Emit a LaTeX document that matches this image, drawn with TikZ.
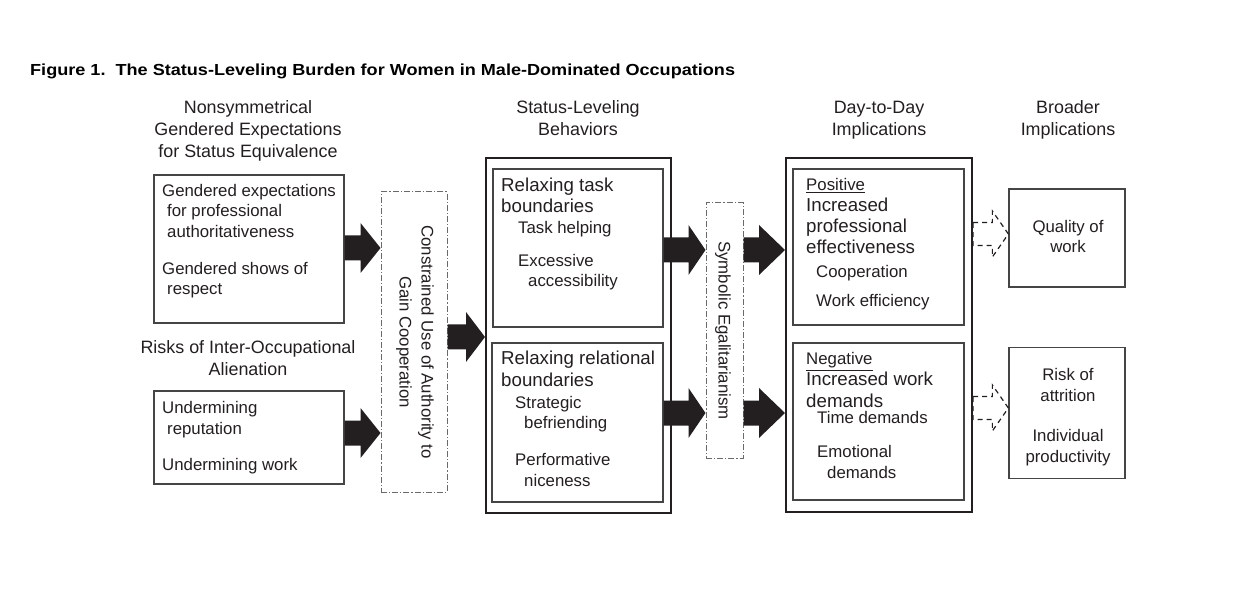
\documentclass[tikz,border=0pt]{standalone}
\usepackage{fontspec}
\setmainfont{Liberation Sans}
\newfontfamily\titlefont[FakeStretch=1.13]{Liberation Sans}
\usetikzlibrary{calc}
\definecolor{ink}{HTML}{231F20}
\definecolor{edge}{HTML}{454545}
\definecolor{dashc}{HTML}{6A6A6A}
\newcommand{\blockarr}[4]{%
  \fill[ink] ($(#1.east|-#3)+(0,-12.5)$) -- ($(#2.west|-#3)+(-#4,-12.5)$)
    -- ($(#2.west|-#3)+(-#4,-25)$) -- (#2.west|-#3) -- ($(#2.west|-#3)+(-#4,25)$)
    -- ($(#2.west|-#3)+(-#4,12.5)$) -- ($(#1.east|-#3)+(0,12.5)$) -- cycle;}
\newcommand{\hollowarr}[3]{%
  \draw[hollow] ($(#1.east|-#3)+(0,-11.5)$) -- ($(#2.west|-#3)+(-16,-11.5)$)
    -- ($(#2.west|-#3)+(-16,-23)$) -- (#2.west|-#3) -- ($(#2.west|-#3)+(-16,23)$)
    -- ($(#2.west|-#3)+(-16,11.5)$) -- ($(#1.east|-#3)+(0,11.5)$) -- cycle;}
\begin{document}
\begin{tikzpicture}[x=1pt,y=-1pt,
  txt/.style={font=\fontsize{16.8}{20.5}\selectfont, inner sep=0pt, align=left, anchor=base west, text=ink},
  hd/.style={font=\fontsize{18.7}{21.2}\selectfont, inner sep=0pt, align=left, anchor=base west, text=ink},
  colhd/.style={font=\fontsize{17.9}{22}\selectfont, inner sep=0pt, align=center, anchor=base, text=ink},
  ctr/.style={font=\fontsize{16.8}{20.5}\selectfont, inner sep=0pt, align=center, anchor=base, text=ink},
  box/.style={draw=edge, line width=1.3pt, inner sep=0pt},
  bigbox/.style={draw=ink, line width=2pt, inner sep=0pt},
  dbox/.style={draw=dashc, line width=1pt, dash pattern=on 6pt off 2pt on 1.2pt off 2pt, inner sep=0pt},
  hollow/.style={draw=ink, line width=1.2pt, dash pattern=on 5pt off 4pt},
]
\path[use as bounding box] (0,0) rectangle (1250,609);

% title
\node[anchor=base west, inner sep=0pt, text=black, font=\titlefont\bfseries\fontsize{16}{19}\selectfont] (title) at (30,76)
  {Figure 1.\ \ The Status-Leveling Burden for Women in Male-Dominated Occupations};

% column headers (anchored at the baseline of their last line)
\node[colhd] (h1) at (248,158) {Nonsymmetrical\\Gendered Expectations\\for Status Equivalence};
\node[colhd] (h1b) at (248,376) {Risks of Inter-Occupational\\Alienation};
\node[colhd] (h2) at (578,136) {Status-Leveling\\Behaviors};
\node[colhd] (h3) at (879,136) {Day-to-Day\\Implications};
\node[colhd] (h4) at (1068,136) {Broader\\Implications};

% boxes
\node[box, minimum width=190pt, minimum height=148pt] (b1) at (249,249) {};
\node[box, minimum width=190pt, minimum height=93pt] (b2) at (249,437.5) {};
\node[dbox, minimum width=66pt, minimum height=300pt] (d1) at (414,342) {};
\node[bigbox, minimum width=185pt, minimum height=355pt] (B2) at (578.5,335.5) {};
\node[box, minimum width=170pt, minimum height=158pt] (i1) at (578,248) {};
\node[box, minimum width=171pt, minimum height=159pt] (i2) at (577.5,422.5) {};
\node[dbox, minimum width=37pt, minimum height=255pt] (d2) at (724.5,330.5) {};
\node[bigbox, minimum width=186pt, minimum height=354pt] (B3) at (879,335) {};
\node[box, minimum width=171pt, minimum height=156pt] (i3) at (878.5,247) {};
\node[box, minimum width=171pt, minimum height=157pt] (i4) at (878.5,421.5) {};
\node[box, minimum width=116pt, minimum height=98pt] (r1) at (1067,238) {};
\node[box, minimum width=116pt, minimum height=131pt] (r2) at (1067,413) {};

% box texts (anchored at the baseline of their last line)
\node[txt] (t1) at (162,295) {Gendered expectations\\\hspace*{5pt}for professional\\\hspace*{5pt}authoritativeness\\[16.5pt]Gendered shows of\\\hspace*{5pt}respect};
\node[txt] (t2) at (162,470) {Undermining\\\hspace*{5pt}reputation\\[15.5pt]Undermining work};
\node[rotate=-90, inner sep=0pt, align=center, font=\fontsize{16.8}{22}\selectfont, text=ink] (t3) at (415,342) {Constrained Use of Authority to\\Gain Cooperation};
\node[hd] (t4) at (501,213) {Relaxing task\\boundaries};
\node[txt] (t5) at (518,287) {Task helping\\[12.5pt]Excessive\\\hspace*{10pt}accessibility};
\node[hd] (t6) at (501,386) {Relaxing relational\\boundaries};
\node[txt] (t7) at (515,486) {Strategic\\\hspace*{9pt}befriending\\[16.5pt]Performative\\\hspace*{9pt}niceness};
\node[rotate=-90, inner sep=0pt, font=\fontsize{16.8}{20.5}\selectfont, text=ink] (t8) at (723,330.5) {Symbolic Egalitarianism};
\node[txt] (t9) at (806,191) {\underline{Positive}};
\node[hd] (t10) at (806,254) {Increased\\professional\\effectiveness};
\node[txt] (t11) at (816,307) {Cooperation\\[8.5pt]Work efficiency};
\node[txt] (t12) at (806,365) {\underline{Negative}};
\node[hd] (t13) at (806,407) {Increased work\\demands};
\node[txt] (t14) at (817,478) {Time demands\\[13.5pt]Emotional\\\hspace*{10pt}demands};
\node[ctr] (t15) at (1068,253) {Quality of\\work};
\node[ctr] (t16) at (1068,462) {Risk of\\attrition\\[20pt]Individual\\productivity};

% row coordinates for connectors
\coordinate (ra) at (0,248);
\coordinate (rb) at (0,433);
\coordinate (rc) at (0,337);
\coordinate (rd) at (0,250);
\coordinate (re) at (0,413);
\coordinate (rf) at (0,234);
\coordinate (rg) at (0,408);

% connectors
\blockarr{b1}{d1}{ra}{20}
\blockarr{b2}{d1}{rb}{20}
\blockarr{d1}{B2}{rc}{19}
\blockarr{i1}{d2}{rd}{17}
\blockarr{i2}{d2}{re}{17}
\blockarr{d2}{B3}{rd}{26}
\blockarr{d2}{B3}{re}{26}
\hollowarr{B3}{r1}{rf}
\hollowarr{B3}{r2}{rg}
\end{tikzpicture}
\end{document}
